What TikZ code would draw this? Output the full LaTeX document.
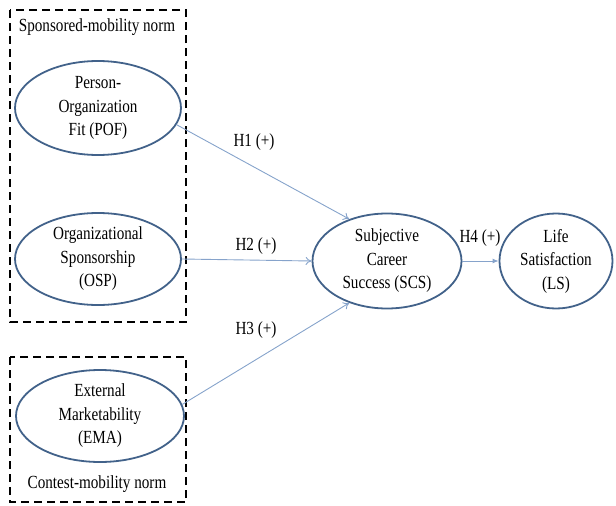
\documentclass[tikz,border=0pt]{standalone}
\usepackage{fontspec}
\setmainfont{Liberation Serif}[FakeStretch=0.82]
\usetikzlibrary{shapes.geometric,arrows.meta}
\definecolor{ellc}{HTML}{42628A}
\definecolor{arrc}{HTML}{86A3CB}
\tikzset{
  construct/.style={ellipse,draw=ellc,line width=1.8pt,inner sep=0pt},
  ctext/.style={align=center,inner sep=0pt,font=\fontsize{18.5}{23.5}\selectfont},
  groupbox/.style={draw=black,line width=1.6pt,dash pattern=on 8pt off 5pt},
  link/.style={draw=arrc,line width=0.9pt,-{To[length=6pt,width=8pt]}},
  hlabel/.style={font=\fontsize{18.5}{20}\selectfont},
  boxtitle/.style={font=\fontsize{18.5}{20}\selectfont}
}
\begin{document}
\begin{tikzpicture}[x=1pt,y=-1pt]
\useasboundingbox (0,0) rectangle (616,506);
\draw[groupbox] (10,10) rectangle (186,322);
\draw[groupbox] (10,357) rectangle (186,502);
\node[boxtitle] (spn) at (97,27) {Sponsored-mobility norm};
\node[boxtitle] (cmn) at (97,484) {Contest-mobility norm};
% ellipses
\node[construct,minimum width=166pt,minimum height=94pt] (pof) at (98,108) {};
\node[construct,minimum width=166pt,minimum height=92pt] (osp) at (98,259) {};
\node[construct,minimum width=168pt,minimum height=92pt] (ema) at (100,416) {};
\node[construct,minimum width=149pt,minimum height=95pt] (scs) at (387,261) {};
\node[construct,minimum width=113pt,minimum height=95pt] (ls) at (556,261) {};
% texts
\node[ctext] (pof-t) at (pof.center) {Person-\\Organization\\Fit (POF)};
\node[ctext] (osp-t) at (osp.center) {Organizational\\Sponsorship\\(OSP)};
\node[ctext] (ema-t) at (ema.center) {External\\Marketability\\(EMA)};
\node[ctext] (scs-t) at (scs.center) {Subjective\\Career\\Success (SCS)};
\node[ctext] (ls-t) at (ls.center) {Life\\Satisfaction\\(LS)};
% connectors
\draw[link] (pof.-12) -- (scs.132);
\draw[link] (osp.east) -- (scs.west);
\draw[link] (ema.8) -- (scs.228);
\draw[link,-{Latex[length=6pt,width=5pt]}] (scs.east) -- (ls.west);
% labels
\node[hlabel] (h1) at (254,142) {H1 (+)};
\node[hlabel] (h2) at (256,246) {H2 (+)};
\node[hlabel] (h3) at (256,330) {H3 (+)};
\node[hlabel] (h4) at (480,238) {H4 (+)};
\end{tikzpicture}
\end{document}
